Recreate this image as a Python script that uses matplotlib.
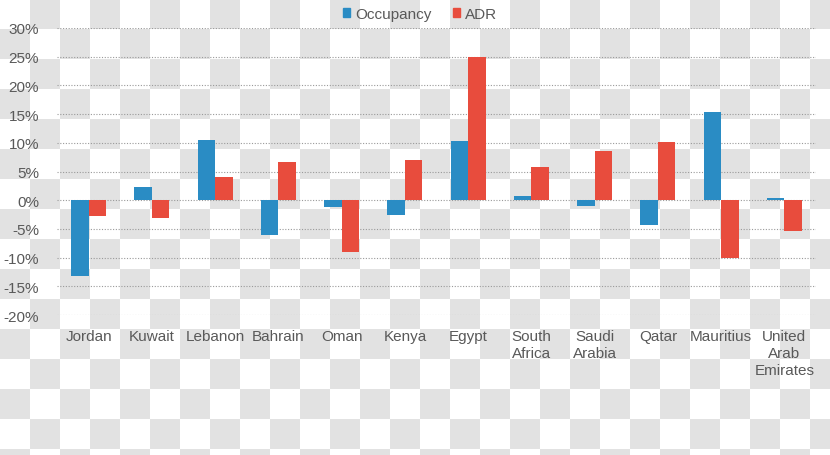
import numpy as np
import matplotlib
matplotlib.use('Agg')
import matplotlib.pyplot as plt
from matplotlib.patches import Patch

plt.rcParams['font.family'] = ['Liberation Sans', 'DejaVu Sans']

countries = ['Jordan', 'Kuwait', 'Lebanon', 'Bahrain', 'Oman', 'Kenya', 'Egypt',
             'South\nAfrica', 'Saudi\nArabia', 'Qatar', 'Mauritius', 'United\nArab\nEmirates']
occupancy = [-13.2, 2.3, 10.5, -6.1, -1.2, -2.6, 10.4, 0.7, -1.0, -4.4, 15.3, 0.3]
adr = [-2.8, -3.1, 4.1, 6.7, -9.1, 7.0, 25.0, 5.7, 8.6, 10.2, -10.1, -5.3]
yticks = [-20, -15, -10, -5, 0, 5, 10, 15, 20, 25, 30]

blue = '#2a8cc4'
red = '#e84c3d'
text_col = '#595959'

W, H = 830, 456
fig = plt.figure(figsize=(W / 100, H / 100), dpi=100)

# transparent-png checkerboard behind the chart
bg = fig.add_axes([0, 0, 1, 1], zorder=0)
sq = 30
rows, cols = H // sq + 1, W // sq + 1
checker = (np.add.outer(np.arange(rows), np.arange(cols)) % 2).astype(float)
bg.imshow(checker, cmap=matplotlib.colors.ListedColormap(['white', '#e2e2e2']),
          extent=(0, cols * sq, rows * sq, 0), interpolation='nearest')
bg.set_xlim(0, W)
bg.set_ylim(H, 0)
bg.axis('off')

ax = fig.add_axes([57 / W, 1 - 316 / H, (816 - 57) / W, (316 - 29) / H], zorder=1)
ax.patch.set_alpha(0)

x = np.arange(len(countries))
w = 0.277
ax.bar(x - w / 2, occupancy, w, color=blue, zorder=3)
ax.bar(x + w / 2, adr, w, color=red, zorder=3)

ax.set_xlim(-0.5, len(countries) - 0.5)
ax.set_ylim(-20, 30)
ax.set_yticks(yticks)
ax.set_yticklabels([f'{v}%' for v in yticks])
ax.set_xticks(x)
ax.set_xticklabels(countries, linespacing=1.3, multialignment='center')
ax.tick_params(axis='both', length=0, labelsize=11, colors=text_col)
ax.tick_params(axis='y', pad=13)
ax.tick_params(axis='x', pad=10)
ax.grid(axis='y', color='#9a9a9a', linestyle=(0, (1, 1.5)), linewidth=0.8, zorder=1)
for s in ax.spines.values():
    s.set_visible(False)

handles = [Patch(color=blue, label='Occupancy'), Patch(color=red, label='ADR')]
fig.legend(handles=handles, loc='center', bbox_to_anchor=(420 / W, 1 - 15 / H),
           ncol=2, frameon=False, fontsize=11, labelcolor=text_col,
           handlelength=0.5, handleheight=0.5, handletextpad=0.3, columnspacing=1.4)

fig.savefig('out.png', dpi=100)
